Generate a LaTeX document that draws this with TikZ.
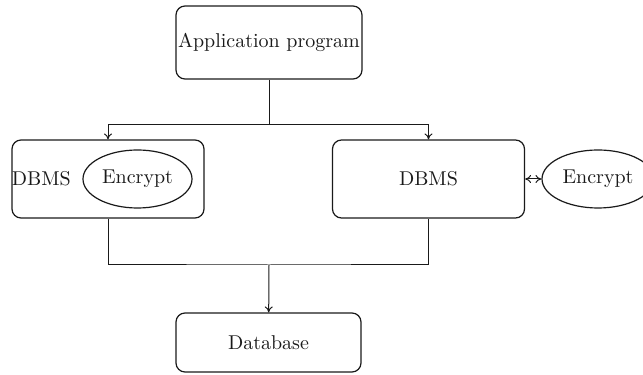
\documentclass[tikz,border=0pt]{standalone}
\usetikzlibrary{arrows.meta,shapes.geometric}
\definecolor{ink}{HTML}{1A1A1A}

\begin{document}
\begin{tikzpicture}[x=0.5pt,y=0.5pt, draw=ink, text=ink, line width=.5pt,
  box/.style={draw, line width=.6pt, rounded corners=4.5pt, minimum width=96pt, minimum height=39pt, inner sep=0pt},
  oval/.style={draw, line width=.6pt, ellipse, minimum width=54.5pt, minimum height=29pt, inner sep=0pt},
  link/.style={-{To[length=3pt,width=4pt]}}]
  \useasboundingbox (0,0) rectangle (643,375);
  % top: application
  \node[box, minimum width=93pt, minimum height=36.5pt] (app) at (269,332.5) {Application program};
  % middle: the two DBMS variants
  \node[box] (dl) at (108,196) {};
  \node[anchor=west, inner sep=0pt] (dltext) at (dl.west) {DBMS};
  \node[oval] (el) at (137.5,196) {Encrypt};
  \node[box] (dr) at (428.5,196) {DBMS};
  \node[oval, minimum width=56pt] (er) at (598,196) {Encrypt};
  % bottom: storage
  \node[box, minimum width=92.5pt, minimum height=29.5pt] (db) at (268.5,32.5) {Database};
  % wiring
  \coordinate (fork) at (269,250);
  \coordinate (join) at (269,110);
  \draw (app) -- (fork);
  \draw[link] (fork) -| (dl);
  \draw[link] (fork) -| (dr);
  \draw (dl) |- (join) -| (dr);
  \draw[link] (join) -- (db);
  \draw[{To[length=3pt,width=4pt]}-{To[length=3pt,width=4pt]}] (dr) -- (er);
\end{tikzpicture}
\end{document}
